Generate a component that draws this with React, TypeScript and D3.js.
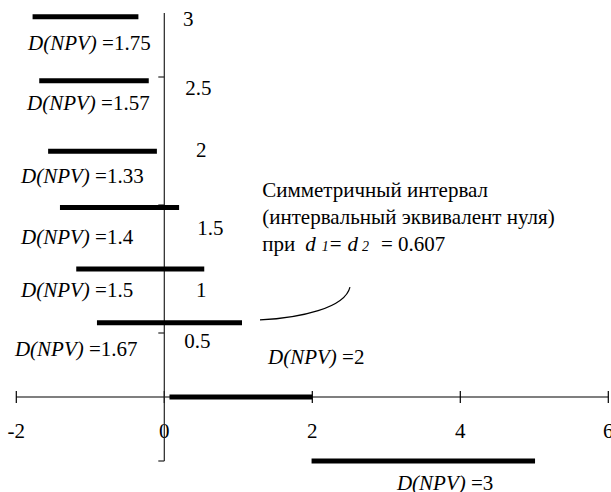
import React, { useEffect, useRef } from "react";
import * as d3 from "d3";

// Interval bars: start / end on the NPV axis, vertical level, D(NPV) label
const barStart = [-1.78, -1.69, -1.57, -1.41, -1.19, -0.91, 0.07, 1.99];
const barEnd = [-0.35, -0.21, -0.1, 0.2, 0.54, 1.05, 2.0, 5.01];
const barLevel = [2.97, 2.47, 1.92, 1.48, 1.0, 0.58, 0, -0.5];
const dValues = ["1.75", "1.57", "1.33", "1.4", "1.5", "1.67", "2", "3"];

// Label anchors (data coordinates: left edge, baseline)
const labelX = [-1.842, -1.855, -1.936, -1.936, -1.936, -2.018, 1.401, 3.144];
const labelY = [2.711, 2.242, 1.672, 1.195, 0.781, 0.32, 0.258, -0.727];

const xTicks = [-2, 0, 2, 4, 6];
const yTickValues = [3, 2.5, 2, 1.5, 1, 0.5];
const yTickLabels = ["3", "2.5", "2", "1.5", "1", "0.5"];
const yAxisTicks = [2.5, 1.5, 0.5, -0.5];

const noteLines = ["Симметричный интервал", "(интервальный эквивалент нуля)"];
const dSym = "0.607";
// note anchor & callout curve (data coords)
const noteX = 1.323;
const noteBaselines = [1.5625, 1.352, 1.141];
const calloutX = [1.293, 1.834, 2.442, 2.509];
const calloutY = [0.602, 0.617, 0.695, 0.859];

const W = 611;
const H = 492;
const FS = 21;

// per-label nudges for the y tick labels (px)
const Y_LABEL_OFFSET: [number, number][] = [
  [24, 13],
  [34, 18],
  [37, 16],
  [46, 30],
  [37, 28],
  [33, 15],
];

export default function App() {
  const ref = useRef<SVGSVGElement>(null);

  useEffect(() => {
    const svg = d3.select(ref.current);
    svg.selectAll("*").remove();
    const x = d3.scaleLinear().domain([-2, 6]).range([16.3, 608.3]);
    const y = d3.scaleLinear().domain([-0.5, 3]).range([461, 13]);
    const x0 = x(0);
    const y0 = y(0);

    const setFont = (sel: any) =>
      sel
        .attr("font-family", "Liberation Serif")
        .style("font-family", '"Liberation Serif", monospace')
        .style("font-size", FS + "px")
        .attr("fill", "#000");

    // horizontal axis
    svg.append("line").attr("x1", x(-2)).attr("x2", x(6)).attr("y1", y0).attr("y2", y0)
      .attr("stroke", "#000").attr("stroke-width", 1.2);
    xTicks.forEach((t) => {
      svg.append("line").attr("x1", x(t)).attr("x2", x(t)).attr("y1", y0 - 6).attr("y2", y0 + 6)
        .attr("stroke", "#000").attr("stroke-width", 1.2);
      setFont(svg.append("text").attr("x", x(t)).attr("y", y0 + 41).attr("text-anchor", "middle"))
        .text(String(t));
    });

    // vertical axis
    svg.append("line").attr("x1", x0).attr("x2", x0).attr("y1", y(3)).attr("y2", y(-0.5))
      .attr("stroke", "#222").attr("stroke-width", 1.2);
    yAxisTicks.forEach((t) => {
      svg.append("line").attr("x1", x0 - 6).attr("x2", x0).attr("y1", y(t)).attr("y2", y(t))
        .attr("stroke", "#222").attr("stroke-width", 1.2);
    });
    yTickValues.forEach((v, i) => {
      setFont(svg.append("text")
        .attr("x", x0 + Y_LABEL_OFFSET[i][0])
        .attr("y", y(v) + Y_LABEL_OFFSET[i][1])
        .attr("text-anchor", "middle"))
        .text(yTickLabels[i]);
    });

    // bars
    barStart.forEach((s, i) => {
      svg.append("line")
        .attr("x1", x(s)).attr("x2", x(barEnd[i]))
        .attr("y1", y(barLevel[i])).attr("y2", y(barLevel[i]))
        .attr("stroke", "#000").attr("stroke-width", 5);
    });

    // D(NPV) labels
    dValues.forEach((d, i) => {
      const t = setFont(svg.append("text").attr("x", x(labelX[i])).attr("y", y(labelY[i])));
      t.append("tspan").style("font-style", "italic").text("D(NPV)");
      t.append("tspan").text("\u00a0=" + d);
    });

    // note
    noteLines.forEach((l, i) => {
      setFont(svg.append("text").attr("x", x(noteX)).attr("y", y(noteBaselines[i]))).text(l);
    });
    const n = setFont(svg.append("text").attr("x", x(noteX)).attr("y", y(noteBaselines[2])));
    n.append("tspan").text("при");
    n.append("tspan").attr("dx", 10).style("font-style", "italic").text("d");
    n.append("tspan").attr("dx", 6).style("font-style", "italic").style("font-size", "14px").text("1");
    n.append("tspan").attr("dx", 1).text("=");
    n.append("tspan").attr("dx", 6).style("font-style", "italic").text("d");
    n.append("tspan").attr("dx", 4).style("font-style", "italic").style("font-size", "14px").text("2");
    n.append("tspan").attr("dx", 12).text("=\u00a0" + dSym);

    // callout
    const p = d3.path();
    p.moveTo(x(calloutX[0]), y(calloutY[0]));
    p.bezierCurveTo(
      x(calloutX[1]), y(calloutY[1]),
      x(calloutX[2]), y(calloutY[2]),
      x(calloutX[3]), y(calloutY[3])
    );
    svg.append("path").attr("d", p.toString()).attr("fill", "none")
      .attr("stroke", "#000").attr("stroke-width", 1.2);
  }, []);

  return (
    <svg
      ref={ref}
      width={W}
      height={H}
      style={{ position: "absolute", left: 0, top: 0, background: "#fff" }}
    />
  );
}
